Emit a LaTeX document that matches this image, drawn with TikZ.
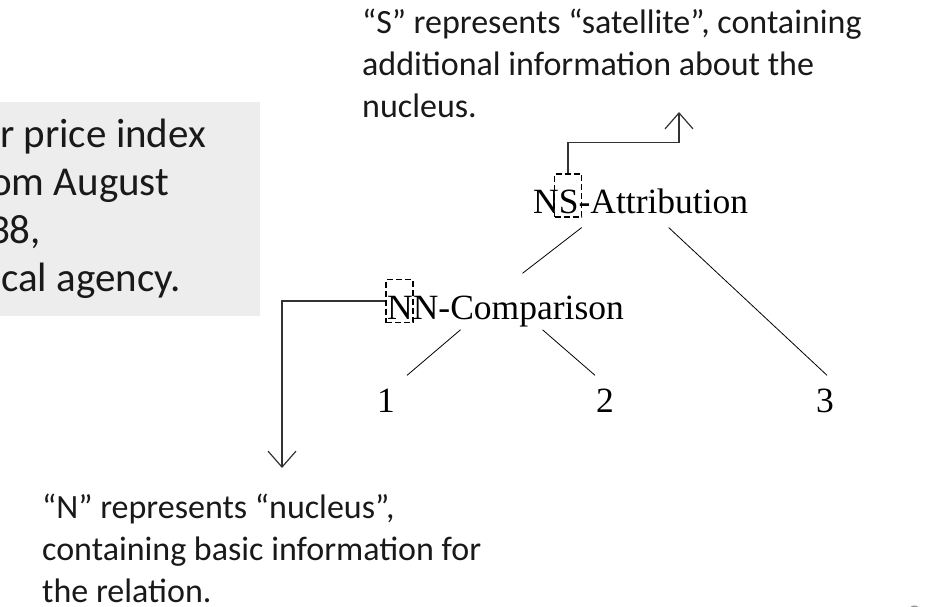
\documentclass[tikz,border=0pt]{standalone}
\usepackage{fontspec}
\setmainfont{Carlito}
\newfontfamily\treefont{Liberation Serif}
\usetikzlibrary{arrows.meta}
\definecolor{panelgray}{RGB}{237,237,237}
\definecolor{inkgray}{RGB}{50,50,50}
\definecolor{pagegray}{RGB}{150,150,150}
\begin{document}
\begin{tikzpicture}[x=1pt,y=-1pt,
  note/.style={font=\fontsize{34}{42}\selectfont, align=left, inner sep=0, anchor=base west, text=black!90},
  panel/.style={font=\fontsize{41}{48}\selectfont, inner sep=0, anchor=base west, text=black!90},
  treelabel/.style={font=\treefont\fontsize{35.5}{42}\selectfont, inner sep=0, anchor=base west},
  leaf/.style={font=\treefont\fontsize{35.5}{42}\selectfont, inner sep=0, anchor=base},
  focus/.style={draw, dash pattern=on 6pt off 3pt, line width=1.8pt, minimum width=27pt, minimum height=43pt, inner sep=0},
  branch/.style={line width=0.8pt},
  callout/.style={line width=1.2pt, draw=inkgray, -{Straight Barb[length=16pt,width=28pt,line width=1.2pt]}}
]
\useasboundingbox (0,0) rectangle (932,606);

% grey panel with the cut-off example sentence
\fill[panelgray] (0,102) rectangle (260,316);
\begin{scope}
  \clip (0,102) rectangle (260,316);
  \node[panel] (p1) at (0,147) {r price index};
  \node[panel] (p2) at (-10,195) {om August};
  \node[panel] (p3) at (-11,243) {38,};
  \node[panel] (p4) at (1,291) {cal agency.};
\end{scope}

% explanatory notes (base anchor sits on the last line)
\node[note] (snote) at (362,117) {“S” represents “satellite”, containing\\additional information about the\\nucleus.};
\node[note] (nnote) at (42,602) {“N” represents “nucleus”,\\containing basic information for\\the relation.};

% RST tree
\node[treelabel] (attr) at (533,213) {NS-Attribution};
\node[treelabel] (cmp) at (387,319) {NN-Comparison};
\node[leaf] (l1) at (386,412) {1};
\node[leaf] (l2) at (605,412) {2};
\node[leaf] (l3) at (825,412) {3};

\draw[branch] ([xshift=-59pt,yshift=-14pt]attr.south) -- ([xshift=17pt,yshift=22pt]cmp.north);
\draw[branch] ([xshift=28pt,yshift=-14pt]attr.south) -- ([xshift=2pt,yshift=13pt]l3.north);
\draw[branch] ([xshift=-45pt,yshift=-3pt]cmp.south) -- ([xshift=21pt,yshift=13pt]l1.north);
\draw[branch] ([xshift=37pt,yshift=-3pt]cmp.south) -- ([xshift=-10pt,yshift=13pt]l2.north);

% dashed markers on the nuclearity letters
\node[focus] (sbox) at (568,195.5) {};
\node[focus] (nbox) at (399.5,301) {};

% callout arrows to the notes
\coordinate (stip) at (679,112);
\coordinate (ntip) at (282,468);
\draw[callout] (sbox.north) -- ++(0,-31) -| (stip);
\draw[callout] (nbox.west) -| (ntip);

% slide number
\node[font=\fontsize{30}{36}\selectfont, text=pagegray, inner sep=0, anchor=base] (pg) at (914,625) {9};
\end{tikzpicture}
\end{document}
